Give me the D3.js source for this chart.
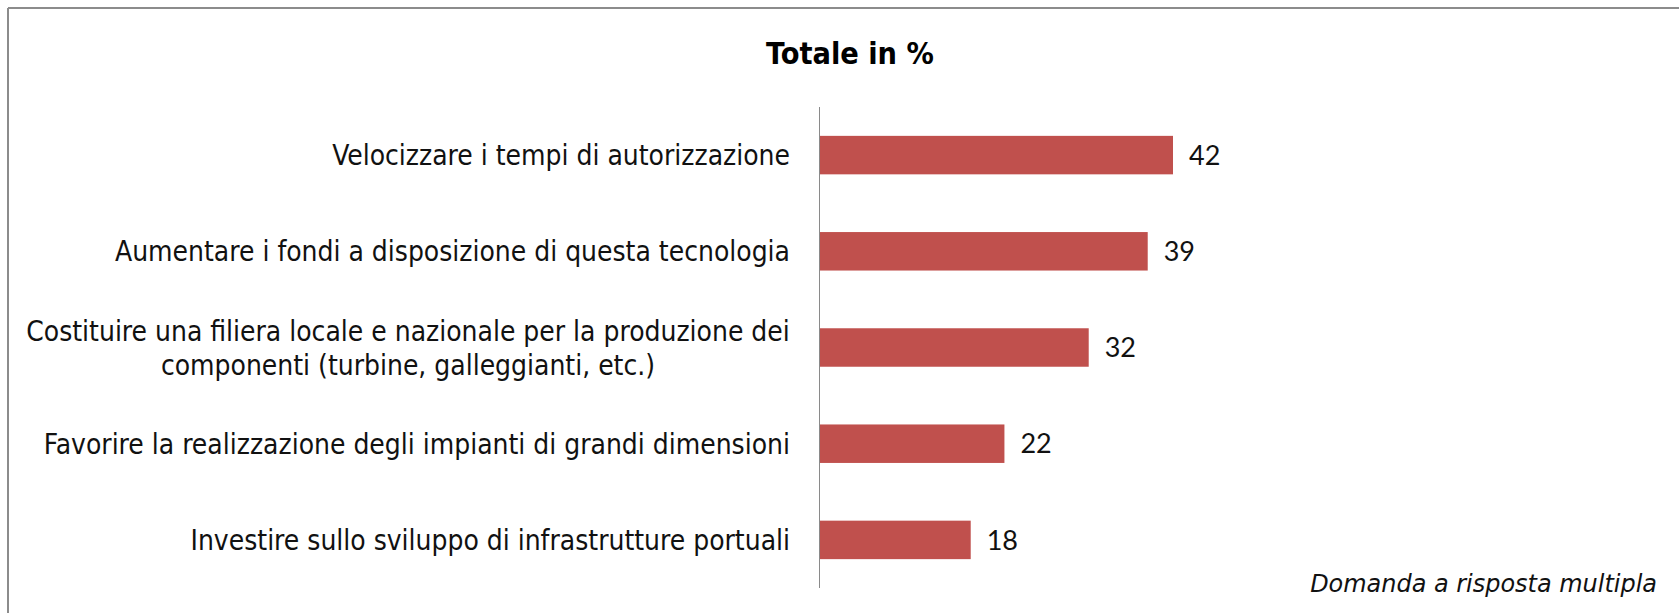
<!DOCTYPE html>
<html>
<head>
<meta charset="utf-8">
<script src="https://cdn.jsdelivr.net/npm/d3@7"></script>
<style>
  html, body { margin: 0; padding: 0; background: #fff; }
  svg { display: block; }
</style>
</head>
<body>
<script>
const categories = [
  ["Velocizzare i tempi di autorizzazione"],
  ["Aumentare i fondi a disposizione di questa tecnologia"],
  ["Costituire una filiera locale e nazionale per la produzione dei", "componenti (turbine, galleggianti, etc.)"],
  ["Favorire la realizzazione degli impianti di grandi dimensioni"],
  ["Investire sullo sviluppo di infrastrutture portuali"]
];
const values = [42, 39, 32, 22, 18];
const titleText = "Totale in %";
const footnoteText = "Domanda a risposta multipla";

const W = 1679, H = 613;
const svg = d3.select("body").append("svg").attr("width", W).attr("height", H);

// measuring helper
const ctx = document.createElement("canvas").getContext("2d");
function fitSize(text, family, weight, style, target) {
  ctx.font = `${style} ${weight} 100px ${family}`;
  const w = ctx.measureText(text).width;
  return 100 * target / w;
}
const labelFont = "'DejaVu Sans Condensed', 'DejaVu Sans', sans-serif";

// frame (top and left)
svg.append("line").attr("x1", 8).attr("x2", W).attr("y1", 8).attr("y2", 8)
  .attr("stroke", "#8c8c8c").attr("stroke-width", 2);
svg.append("line").attr("x1", 8).attr("x2", 8).attr("y1", 8).attr("y2", H)
  .attr("stroke", "#8c8c8c").attr("stroke-width", 2);

// title
const titleSize = fitSize(titleText, labelFont, "bold", "normal", 168);
svg.append("text").text(titleText)
  .attr("x", 850).attr("y", 64)
  .attr("text-anchor", "middle")
  .style("font-family", labelFont).style("font-weight", "bold")
  .style("font-size", titleSize + "px").attr("fill", "#000");

// scales
const idx = d3.range(values.length);
const y = d3.scaleBand().domain(idx).range([107, 588]).paddingInner(0.6).paddingOuter(0.3);
const x = d3.scaleLinear().domain([0, 42]).range([819, 1173]);

// bars
svg.append("g").selectAll("rect").data(idx).join("rect")
  .attr("x", x(0))
  .attr("y", i => y(i))
  .attr("width", i => x(values[i]) - x(0))
  .attr("height", y.bandwidth())
  .attr("fill", "#C0504D");

// axis line
svg.append("line").attr("x1", x(0) + 0.5).attr("x2", x(0) + 0.5)
  .attr("y1", 107).attr("y2", 588)
  .attr("stroke", "#8a8a8a").attr("stroke-width", 1);

// category labels
const labelSize = fitSize(categories[2][0], labelFont, "normal", "normal", 764);
const lineGap = 34;
const lg = svg.append("g");
idx.forEach(i => {
  const lines = categories[i];
  const cy = y(i) + y.bandwidth() / 2;
  const t = lg.append("text")
    .attr("text-anchor", lines.length > 1 ? "middle" : "end")
    .style("font-family", labelFont).style("font-size", labelSize + "px").attr("fill", "#111");
  lines.forEach((ln, k) => {
    const off = (k - (lines.length - 1) / 2) * lineGap;
    const lx = lines.length > 1 ? 408 : 790;
    t.append("tspan").attr("x", lx).attr("y", cy + off).attr("dy", "0.36em").text(ln);
  });
});

// value labels
svg.append("g").selectAll("text").data(idx).join("text")
  .attr("x", i => x(values[i]) + 16)
  .attr("y", i => y(i) + y.bandwidth() / 2)
  .attr("dy", "0.36em")
  .style("font-family", "Lato, 'Open Sans', sans-serif")
  .style("font-size", "27px").attr("fill", "#111")
  .text(i => values[i]);

// footnote
const footSize = fitSize(footnoteText, "'DejaVu Sans', sans-serif", "normal", "italic", 347);
svg.append("text").text(footnoteText)
  .attr("x", 1657).attr("y", 592)
  .attr("text-anchor", "end")
  .style("font-family", "'DejaVu Sans', sans-serif").style("font-style", "italic")
  .style("font-size", footSize + "px").attr("fill", "#111");
</script>
</body>
</html>
